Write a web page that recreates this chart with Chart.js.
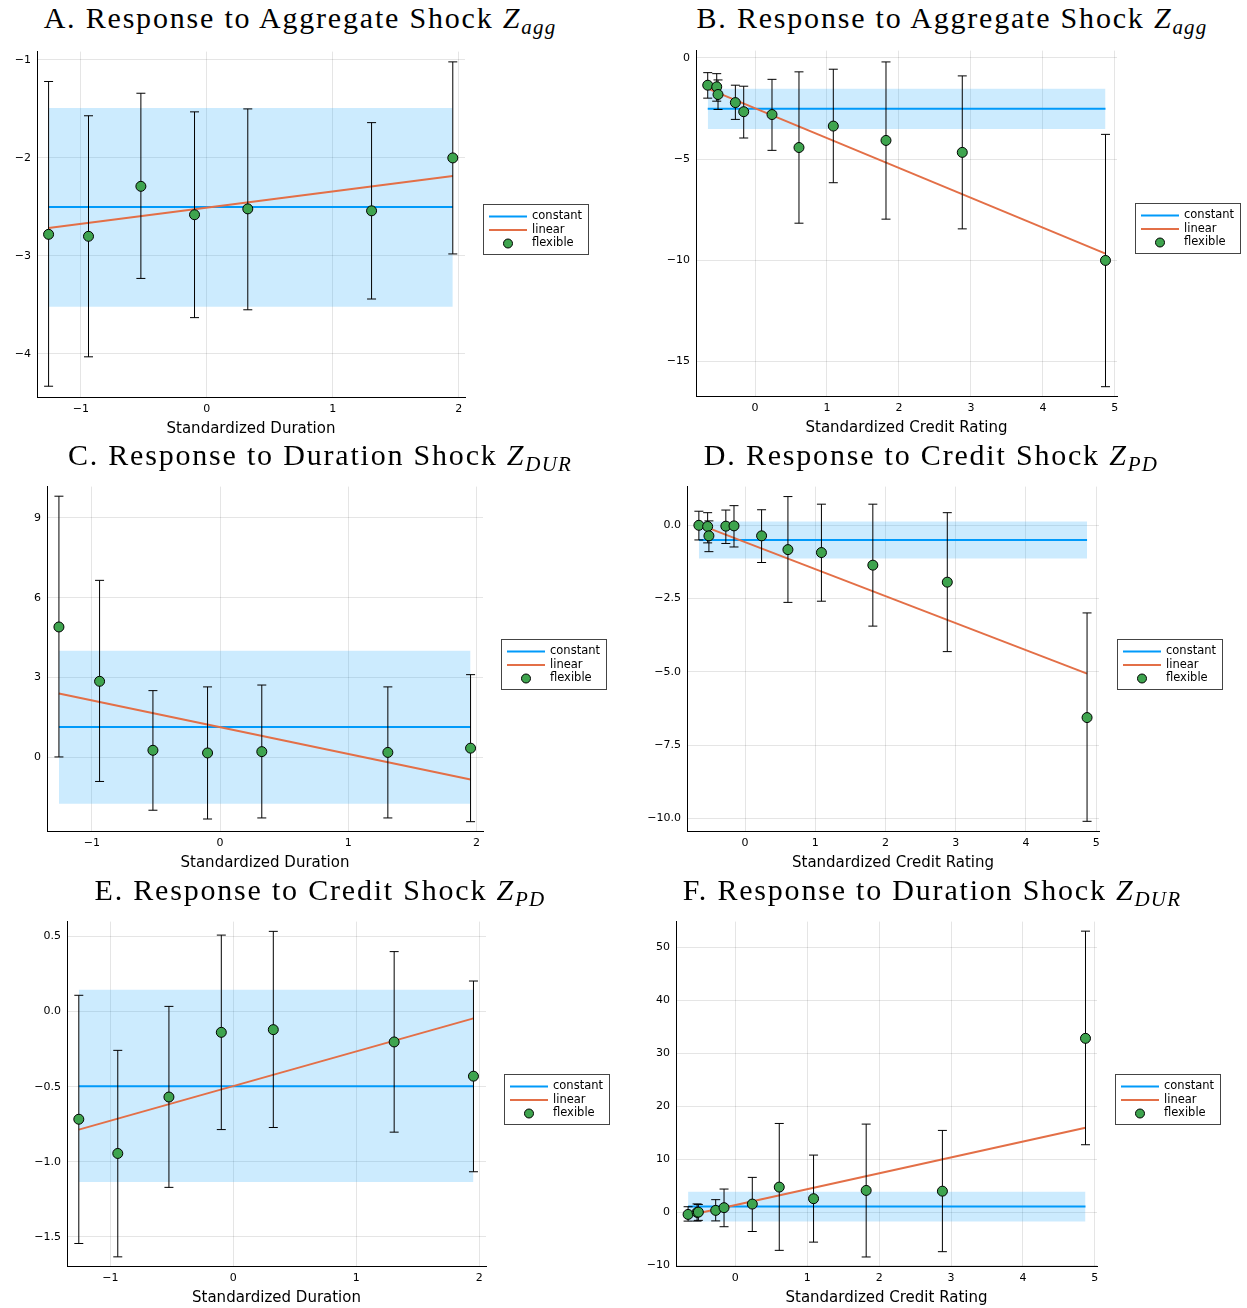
<!DOCTYPE html>
<html>
<head>
<meta charset="utf-8">
<script src="https://cdn.jsdelivr.net/npm/chart.js@4.4.1/dist/chart.umd.min.js"></script>
<style>
  html, body { margin: 0; padding: 0; background: #fff; }
  #page { position: relative; width: 1247px; height: 1308px; overflow: hidden; }
  .ttl { position: absolute; width: 640px; text-align: center; font-family: "Liberation Serif", serif;
         font-size: 30px; line-height: 30px; letter-spacing: 1.8px; color: #000; white-space: nowrap; }
  .ttl i { font-style: italic; }
  .ttl sub { font-size: 21px; font-style: italic; vertical-align: -6px; line-height: 0; letter-spacing: 1.2px; }
  canvas { position: absolute; }
</style>
</head>
<body>
<div id="page"></div>
<script>
// ---- data ----
const durationX = [-1.257, -0.94, -0.524, -0.098, 0.325, 1.308, 1.953];
const creditX = [-0.657, -0.532, -0.514, -0.273, -0.157, 0.236, 0.611, 1.088, 1.82, 2.88, 4.87];
const legendLabels = ['constant', 'linear', 'flexible'];

// A. aggregate shock by duration
const aggDurEst = [-2.78, -2.80, -2.29, -2.58, -2.52, -2.54, -2.00];
const aggDurLo = [-4.33, -4.03, -3.23, -3.63, -3.55, -3.44, -2.98];
const aggDurHi = [-1.22, -1.57, -1.34, -1.53, -1.50, -1.64, -1.02];
const aggDurConst = -2.50;
const aggDurBand = [-3.52, -1.49];
const aggDurLinear = [-2.715, -2.185];

// B. aggregate shock by credit rating
const aggCrEst = [-1.35, -1.43, -1.81, -2.21, -2.66, -2.80, -4.43, -3.37, -4.08, -4.67, -10.01];
const aggCrLo = [-1.99, -2.14, -2.55, -3.04, -3.96, -4.57, -8.17, -6.17, -7.97, -8.45, -16.25];
const aggCrHi = [-0.73, -0.78, -1.09, -1.35, -1.40, -1.06, -0.69, -0.56, -0.20, -0.89, -3.78];
const aggCrConst = -2.52;
const aggCrBand = [-3.52, -1.53];
const aggCrLinear = [-1.52, -9.67];

// C. duration shock by duration
const durDurEst = [4.90, 2.86, 0.27, 0.17, 0.22, 0.19, 0.35];
const durDurLo = [0.02, -0.90, -1.98, -2.31, -2.27, -2.27, -2.41];
const durDurHi = [9.81, 6.65, 2.51, 2.65, 2.72, 2.65, 3.11];
const durDurConst = 1.14;
const durDurBand = [-1.74, 4.01];
const durDurLinear = [2.40, -0.825];

// D. credit shock by credit rating
const pdCrEst = [0.00, -0.04, -0.36, -0.03, -0.02, -0.36, -0.83, -0.93, -1.36, -1.94, -6.56];
const pdCrLo = [-0.50, -0.60, -0.90, -0.62, -0.74, -1.27, -2.63, -2.59, -3.44, -4.31, -10.10];
const pdCrHi = [0.48, 0.43, 0.15, 0.52, 0.67, 0.53, 0.98, 0.72, 0.72, 0.43, -2.99];
const pdCrConst = -0.50;
const pdCrBand = [-1.134, 0.126];
const pdCrLinear = [0.03, -5.06];

// E. credit shock by duration
const pdDurEst = [-0.717, -0.945, -0.569, -0.138, -0.120, -0.202, -0.430];
const pdDurLo = [-1.545, -1.634, -1.171, -0.786, -0.772, -0.803, -1.067];
const pdDurHi = [0.109, -0.258, 0.035, 0.510, 0.535, 0.400, 0.204];
const pdDurConst = -0.498;
const pdDurBand = [-1.136, 0.146];
const pdDurLinear = [-0.786, -0.045];

// F. duration shock by credit rating
const durCrEst = [-0.38, 0.00, 0.05, 0.38, 0.89, 1.57, 4.77, 2.58, 4.14, 4.00, 32.8];
const durCrLo = [-1.64, -1.64, -1.50, -1.60, -2.70, -3.60, -7.15, -5.60, -8.40, -7.40, 12.75];
const durCrHi = [1.07, 1.60, 1.50, 2.40, 4.40, 6.60, 16.76, 10.80, 16.64, 15.45, 53.0];
const durCrConst = 1.13;
const durCrBand = [-1.70, 3.90];
const durCrLinear = [-0.58, 15.95];

// ticks
const durTicks = [-1, 0, 1, 2];
const creditTicks = [0, 1, 2, 3, 4, 5];
const aggDurTicks = [-4, -3, -2, -1];
const aggCrTicks = [-15, -10, -5, 0];
const durDurTicks = [0, 3, 6, 9];
const pdCrTicks = [-10, -7.5, -5, -2.5, 0];
const pdDurTicks = [-1.5, -1, -0.5, 0, 0.5];
const durCrTicks = [-10, 0, 10, 20, 30, 40, 50];

const page = document.getElementById('page');
const COL = { constant: '#009AFA', linear: '#E36F47', flexible: '#3EA44E', band: 'rgba(0,154,250,0.2)' };

function fmt(v, dec) {
  return (v < 0 ? '\u2212' : '') + Math.abs(v).toFixed(dec);
}

// legend box drawn to the right of the plot area
const legendBox = {
  id: 'legendBox',
  afterDraw(chart) {
    const a = chart.chartArea, ctx = chart.ctx;
    const bx = Math.round(a.right + 18), by = Math.round((a.top + a.bottom) / 2 - 20);
    const bw = 105, bh = 50;
    ctx.save();
    ctx.fillStyle = '#fff';
    ctx.fillRect(bx, by, bw, bh);
    ctx.strokeStyle = '#444';
    ctx.lineWidth = 1;
    ctx.strokeRect(bx + 0.5, by + 0.5, bw, bh);
    ctx.font = '11.5px "DejaVu Sans"';
    ctx.textBaseline = 'middle';
    legendLabels.forEach((lab, i) => {
      const y = by + 12.5 + i * 13.5;
      if (lab === 'flexible') {
        ctx.beginPath();
        ctx.arc(bx + 25, y, 4.5, 0, Math.PI * 2);
        ctx.fillStyle = COL.flexible;
        ctx.fill();
        ctx.strokeStyle = '#000';
        ctx.stroke();
      } else {
        ctx.beginPath();
        ctx.moveTo(bx + 6, y);
        ctx.lineTo(bx + 44, y);
        ctx.strokeStyle = COL[lab];
        ctx.lineWidth = 2;
        ctx.stroke();
        ctx.lineWidth = 1;
      }
      ctx.fillStyle = '#000';
      ctx.fillText(lab, bx + 49, y);
    });
    ctx.restore();
  }
};

const panels = [
  { title: 'A. Response to Aggregate Shock ', sub: 'agg', tx: 300, ty: 19,
    xs: durationX, est: aggDurEst, lo: aggDurLo, hi: aggDurHi, c: aggDurConst, band: aggDurBand, lin: aggDurLinear,
    xLabel: 'Standardized Duration', xMin: -1.349, xMax: 2.05, yMin: -4.44, yMax: -0.915,
    xTicks: durTicks, yTicks: aggDurTicks, yDec: 0, cell: 0, L: 37, R: 465, T: 51, B: 397 },
  { title: 'B. Response to Aggregate Shock ', sub: 'agg', tx: 952, ty: 19,
    xs: creditX, est: aggCrEst, lo: aggCrLo, hi: aggCrHi, c: aggCrConst, band: aggCrBand, lin: aggCrLinear,
    xLabel: 'Standardized Credit Rating', xMin: -0.82, xMax: 5.03, yMin: -16.71, yMax: 0.36,
    xTicks: creditTicks, yTicks: aggCrTicks, yDec: 0, cell: 624, L: 696, R: 1117, T: 50, B: 396 },
  { title: 'C. Response to Duration Shock ', sub: 'DUR', tx: 320, ty: 456,
    xs: durationX, est: durDurEst, lo: durDurLo, hi: durDurHi, c: durDurConst, band: durDurBand, lin: durDurLinear,
    xLabel: 'Standardized Duration', xMin: -1.35, xMax: 2.05, yMin: -2.76, yMax: 10.17,
    xTicks: durTicks, yTicks: durDurTicks, yDec: 0, cell: 0, L: 47, R: 483, T: 486, B: 831 },
  { title: 'D. Response to Credit Shock ', sub: 'PD', tx: 931, ty: 456,
    xs: creditX, est: pdCrEst, lo: pdCrLo, hi: pdCrHi, c: pdCrConst, band: pdCrBand, lin: pdCrLinear,
    xLabel: 'Standardized Credit Rating', xMin: -0.826, xMax: 5.04, yMin: -10.43, yMax: 1.32,
    xTicks: creditTicks, yTicks: pdCrTicks, yDec: 1, cell: 624, L: 687, R: 1099, T: 486, B: 831 },
  { title: 'E. Response to Credit Shock ', sub: 'PD', tx: 320, ty: 891,
    xs: durationX, est: pdDurEst, lo: pdDurLo, hi: pdDurHi, c: pdDurConst, band: pdDurBand, lin: pdDurLinear,
    xLabel: 'Standardized Duration', xMin: -1.353, xMax: 2.055, yMin: -1.695, yMax: 0.6,
    xTicks: durTicks, yTicks: pdDurTicks, yDec: 1, cell: 0, L: 67, R: 486, T: 921, B: 1266 },
  { title: 'F. Response to Duration Shock ', sub: 'DUR', tx: 932, ty: 891,
    xs: creditX, est: durCrEst, lo: durCrLo, hi: durCrHi, c: durCrConst, band: durCrBand, lin: durCrLinear,
    xLabel: 'Standardized Credit Rating', xMin: -0.825, xMax: 5.03, yMin: -10.1, yMax: 54.8,
    xTicks: creditTicks, yTicks: durCrTicks, yDec: 0, cell: 624, L: 676, R: 1097, T: 921, B: 1266 }
];

function makePanel(p) {
  // title with math-style subscript
  const t = document.createElement('div');
  t.className = 'ttl';
  t.style.left = (p.tx - 320) + 'px';
  t.style.top = (p.ty - 16) + 'px';
  t.innerHTML = p.title + '<i>Z</i><sub>' + p.sub + '</sub>';
  page.appendChild(t);

  const top = p.T - 12, h = p.B + 42 - top, w = 623;
  const cv = document.createElement('canvas');
  cv.width = w; cv.height = h;
  cv.style.left = p.cell + 'px';
  cv.style.top = top + 'px';
  cv.style.width = w + 'px';
  cv.style.height = h + 'px';
  page.appendChild(cv);

  const x0 = p.xs[0], x1 = p.xs[p.xs.length - 1];
  const errData = [];
  p.xs.forEach((x, i) => {
    errData.push({ x: x, y: p.lo[i] }, { x: x, y: p.hi[i] }, { x: x, y: null });
  });
  const tickFont = { family: 'DejaVu Sans', size: 11 };

  new Chart(cv, {
    type: 'scatter',
    data: {
      datasets: [
        { label: 'flexible', data: p.xs.map((x, i) => ({ x: x, y: p.est[i] })),
          pointRadius: 5, pointHoverRadius: 5, pointBackgroundColor: COL.flexible,
          pointBorderColor: '#000', pointBorderWidth: 1, order: 0 },
        { label: 'error', data: errData, showLine: true, spanGaps: false,
          borderColor: '#000', borderWidth: 1, pointStyle: 'line', pointRadius: 4.5,
          pointHoverRadius: 4.5, pointBorderColor: '#000', pointBorderWidth: 1, order: 1 },
        { label: 'linear', data: [{ x: x0, y: p.lin[0] }, { x: x1, y: p.lin[1] }], showLine: true,
          borderColor: COL.linear, borderWidth: 2, pointRadius: 0, order: 2 },
        { label: 'constant', data: [{ x: x0, y: p.c }, { x: x1, y: p.c }], showLine: true,
          borderColor: COL.constant, borderWidth: 2, pointRadius: 0, order: 3 },
        { label: 'band hi', data: [{ x: x0, y: p.band[1] }, { x: x1, y: p.band[1] }], showLine: true,
          borderColor: 'rgba(0,0,0,0)', borderWidth: 0, pointRadius: 0, fill: '+1',
          backgroundColor: COL.band, order: 4 },
        { label: 'band lo', data: [{ x: x0, y: p.band[0] }, { x: x1, y: p.band[0] }], showLine: true,
          borderColor: 'rgba(0,0,0,0)', borderWidth: 0, pointRadius: 0, fill: false, order: 5 }
      ]
    },
    options: {
      responsive: false,
      animation: false,
      devicePixelRatio: 1,
      events: [],
      layout: { padding: { top: 12, right: p.cell + w - p.R, bottom: 0, left: 0 } },
      plugins: { legend: { display: false }, tooltip: { enabled: false } },
      scales: {
        x: {
          type: 'linear', min: p.xMin, max: p.xMax,
          afterBuildTicks: s => { s.ticks = p.xTicks.map(v => ({ value: v })); },
          afterFit: s => { s.height = 42; },
          ticks: { callback: v => fmt(v, 0), font: tickFont, color: '#000', padding: 6,
                   maxRotation: 0, autoSkip: false },
          grid: { color: 'rgba(0,0,0,0.1)', drawTicks: false },
          border: { color: '#000', width: 1 },
          title: { display: true, text: p.xLabel, color: '#000',
                   font: { family: 'DejaVu Sans', size: 15 }, padding: { top: 0, bottom: 1 } }
        },
        y: {
          type: 'linear', min: p.yMin, max: p.yMax,
          afterBuildTicks: s => { s.ticks = p.yTicks.map(v => ({ value: v })); },
          afterFit: s => { s.width = p.L - p.cell; },
          ticks: { callback: v => fmt(v, p.yDec), font: tickFont, color: '#000', padding: 6, autoSkip: false },
          grid: { color: 'rgba(0,0,0,0.1)', drawTicks: false },
          border: { color: '#000', width: 1 }
        }
      }
    },
    plugins: [legendBox]
  });
}

panels.forEach(makePanel);
</script>
</body>
</html>
